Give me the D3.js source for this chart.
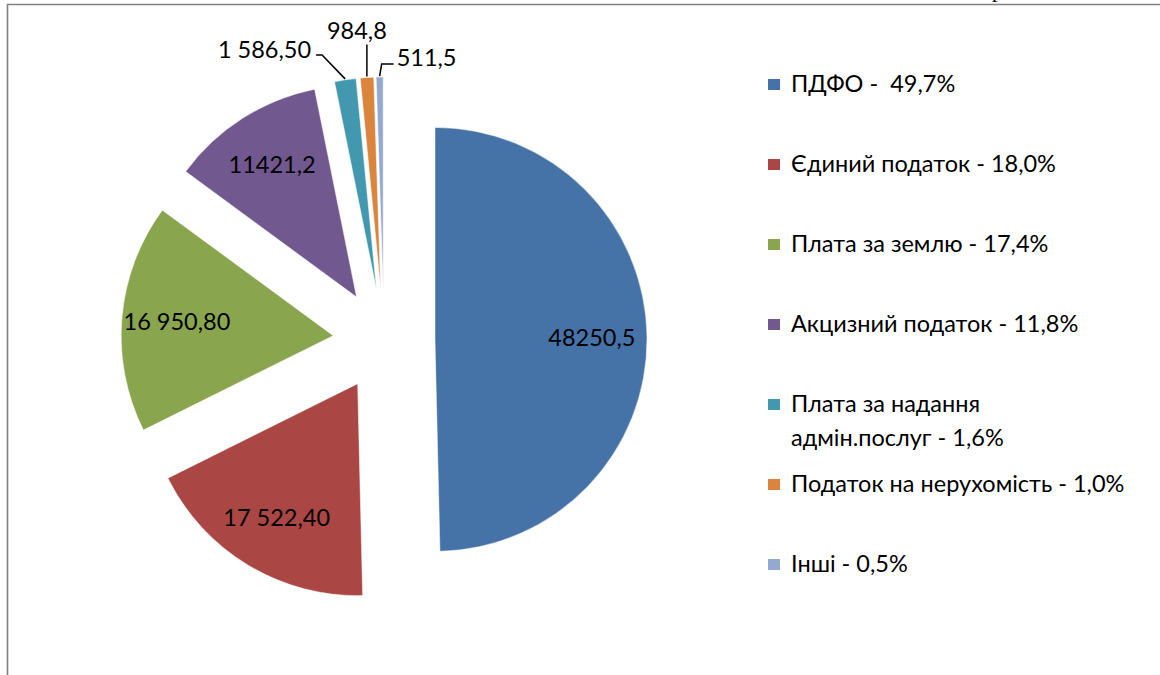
<!DOCTYPE html>
<html>
<head>
<meta charset="utf-8">
<script src="https://cdn.jsdelivr.net/npm/d3@7"></script>
<style>
  body { margin: 0; background: #fff; }
  svg { display: block; }
  text { white-space: pre; }
</style>
</head>
<body>
<svg id="viz"></svg>
<script>
// --- Data ---
const categories = ["ПДФО", "Єдиний податок", "Плата за землю", "Акцизний податок",
  "Плата за надання адмін.послуг", "Податок на нерухомість", "Інші"];
const values = [48250.5, 17522.4, 16950.8, 11421.2, 1586.5, 984.8, 511.5];
const valueLabels = ["48250,5", "17 522,40", "16 950,80", "11421,2", "1 586,50", "984,8", "511,5"];
const legendLabels = [
  ["ПДФО -  49,7%"],
  ["Єдиний податок - 18,0%"],
  ["Плата за землю - 17,4%"],
  ["Акцизний податок - 11,8%"],
  ["Плата за надання", "адмін.послуг - 1,6%"],
  ["Податок на нерухомість - 1,0%"],
  ["Інші - 0,5%"]
];
const colors = ["#4572A7", "#AA4643", "#89A54E", "#71588F", "#4198AF", "#DB843D", "#93A9CF"];

const width = 1160;
const height = 675;
const font = "Lato, 'Open Sans', sans-serif";
const fontSize = 23.5;

const svg = d3.select("#viz")
  .attr("width", width)
  .attr("height", height);

// --- Frame ---
svg.append("path")
  .attr("d", `M7.5,${height} V4.5 H${width}`)
  .attr("fill", "none")
  .attr("stroke", "#808080")
  .attr("stroke-width", 1.6);

// cut-off glyph from the page above the chart
svg.append("text")
  .attr("x", 992)
  .attr("y", -3)
  .attr("font-family", "'Liberation Serif', serif")
  .attr("font-size", 22)
  .attr("fill", "#000")
  .text("р");

// --- Pie ---
const cx = 384;
const cy = 340;
const R = 212;
const explode = 51;

const pie = d3.pie().sort(null).value(d => d.value);
const arcs = pie(values.map((v, i) => ({ value: v, i })));
const arc = d3.arc().innerRadius(0).outerRadius(R);

arcs.forEach(a => {
  a.mid = (a.startAngle + a.endAngle) / 2;
  a.dx = Math.sin(a.mid);
  a.dy = -Math.cos(a.mid);
  a.ox = cx + explode * a.dx;
  a.oy = cy + explode * a.dy;
});

const slices = svg.append("g");
slices.selectAll("path")
  .data(arcs)
  .join("path")
  .attr("transform", d => `translate(${d.ox},${d.oy})`)
  .attr("d", arc)
  .attr("fill", d => colors[d.data.i])
  .attr("stroke", "#fff")
  .attr("stroke-width", 0.5);

// inside labels for the big slices
const labelR = 0.74 * R;
const labels = svg.append("g")
  .attr("font-family", font)
  .attr("font-size", fontSize)
  .attr("fill", "#000");

labels.selectAll("text.inside")
  .data(arcs.filter(d => d.data.i < 4))
  .join("text")
  .attr("class", "inside")
  .attr("x", d => d.ox + labelR * d.dx)
  .attr("y", d => d.oy + labelR * d.dy + 8)
  .attr("text-anchor", "middle")
  .text(d => valueLabels[d.data.i]);

// outside labels with leader lines for the small slices
const leaders = {
  4: { pts: [[-23, -24], [-29, -24]], label: [-34, -21], anchor: "end" },
  5: { pts: [[0, -32]], label: [-10, -38], anchor: "middle" },
  6: { pts: [[2, -12], [14, -12]], label: [17, -10], anchor: "start" }
};

arcs.filter(d => d.data.i >= 4).forEach(d => {
  const L = leaders[d.data.i];
  const sx = d.ox + (R + 1) * d.dx;
  const sy = d.oy + (R + 1) * d.dy;
  const line = [[sx, sy]].concat(L.pts.map(p => [sx + p[0], sy + p[1]]));
  svg.append("path")
    .attr("d", d3.line()(line))
    .attr("fill", "none")
    .attr("stroke", "#000")
    .attr("stroke-width", 1.5);
  labels.append("text")
    .attr("x", sx + L.label[0])
    .attr("y", sy + L.label[1])
    .attr("text-anchor", L.anchor)
    .text(valueLabels[d.data.i]);
});

// --- Legend ---
const legend = svg.append("g")
  .attr("font-family", font)
  .attr("font-size", fontSize)
  .attr("fill", "#000");

const legendX = 768;
const legendY = 92;
const legendStep = 80;

const items = legend.selectAll("g")
  .data(legendLabels)
  .join("g")
  .attr("transform", (d, i) => `translate(${legendX},${legendY + i * legendStep})`);

items.append("rect")
  .attr("x", 0)
  .attr("y", -13)
  .attr("width", 12)
  .attr("height", 11)
  .attr("fill", (d, i) => colors[i]);

items.append("text")
  .attr("x", 23)
  .attr("y", 0)
  .selectAll("tspan")
  .data(d => d)
  .join("tspan")
  .attr("x", 23)
  .attr("dy", (d, j) => j === 0 ? 0 : 34)
  .text(d => d);
</script>
</body>
</html>
